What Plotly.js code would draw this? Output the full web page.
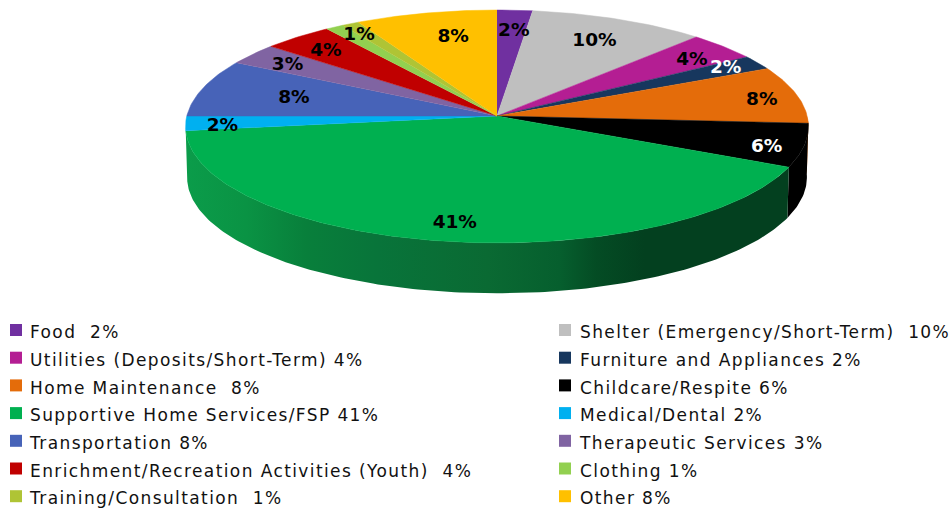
<!DOCTYPE html>
<html><head><meta charset="utf-8">
<script src="https://cdn.plot.ly/plotly-3.0.1.min.js"></script>
<style>html,body{margin:0;padding:0;background:#fff}#chart{width:952px;height:508px}
/* the key is set wide in the reference; the last four traces are the two key columns */
.scatterlayer .trace:nth-last-child(-n+4) .textpoint text{letter-spacing:1.4px}
</style>
</head><body><div id="chart"></div>
<script>
const categories=["Food","Shelter (Emergency/Short-Term)","Utilities (Deposits/Short-Term)","Furniture and Appliances","Home Maintenance","Childcare/Respite","Supportive Home Services/FSP","Medical/Dental","Transportation","Therapeutic Services","Enrichment/Recreation Activities (Youth)","Clothing","Training/Consultation","Other"];
const values=[2,10,4,2,8,6,41,2,8,3,4,1,1,8];
const legendSep=["\u00a0\u00a0"," \u00a0"," "," ","\u00a0\u00a0"," "," "," "," "," ","\u00a0\u00a0"," ","\u00a0\u00a0"," "];
const colors=["#7030A0","#BFBFBF","#B41E93","#17375E","#E46C0A","#000000","#00B050","#00B0F0","#4763B8","#8064A2","#C00000","#92D050","#AFC435","#FFC000"];
const labelColors=["#000","#000","#000","#fff","#000","#fff","#000","#000","#000","#000","#000","#000",null,"#000"];
// pixel nudges of the percentage labels away from their default spot in the slice
const labelNudge=[[4,-9],[10,-5],[34,-6],[44,-10],[54,-1],[56,11],[-6,22],[-57,5],[4,2],[-36,-7],[-29,-8],[-22,-17],null,[7,-5]];
const wallScale=[[0,"#0B9C4A"],[0.1,"#0A9344"],[0.2,"#087F3B"],[0.32,"#08743A"],[0.5,"#0A6A33"],[0.62,"#065F2E"],[0.68,"#044C24"],[0.76,"#03401F"],[1,"#03401F"]];

// projection of the tilted disc onto the pixel-scaled axes
const CX=497,CY=116,A=310.2,G=115.5,K=0.09,DEPTH=51,BOTTOM=0.995;
function proj(frac,r,down){
  const t=2*Math.PI*frac,X=r*Math.sin(t),Y=r*Math.cos(t),d=1+K*Y,s=down?BOTTOM:1;
  return [CX+s*A*X/d, CY+(down?DEPTH:0)-s*G*Y/d];
}
function arc(a,b,down){
  const n=Math.max(2,Math.ceil((b-a)*400)),p=[];
  for(let i=0;i<=n;i++)p.push(proj(a+(b-a)*i/n,1,down));
  return p;
}
const total=values.reduce((a,b)=>a+b,0);
let c=0;
const spans=values.map(v=>{const s=[c/total,(c+v)/total];c+=v;return s;});
const traces=[];
// side wall: only the front half of the disc shows one
spans.forEach((s,i)=>{
  if(values[i]<5)return;
  const a=Math.max(s[0],0.25),b=Math.min(s[1],0.75);
  if(b<=a)return;
  const p=arc(a,b,false).concat(arc(a,b,true).reverse());
  const tr={type:"scatter",mode:"lines",x:p.map(q=>q[0]),y:p.map(q=>q[1]),fill:"toself",line:{width:0},hoverinfo:"skip",showlegend:false};
  if(i===6){tr.fillgradient={type:"horizontal",colorscale:wallScale};}
  else tr.fillcolor=colors[i];
  traces.push(tr);
});
// top face
spans.forEach((s,i)=>{
  const p=[proj(0,0,false)].concat(arc(s[0],s[1],false));
  traces.push({type:"scatter",mode:"lines",name:categories[i],x:p.map(q=>q[0]),y:p.map(q=>q[1]),fill:"toself",fillcolor:colors[i],line:{width:0.5,color:colors[i]},hoverinfo:"name",showlegend:false});
});
// percentage labels
const lx=[],ly=[],lt=[],lc=[];
spans.forEach((s,i)=>{
  if(!labelNudge[i])return;
  const q=proj((s[0]+s[1])/2,0.7,false);
  lx.push(q[0]+labelNudge[i][0]);ly.push(q[1]+labelNudge[i][1]);lt.push(values[i]+"%");lc.push(labelColors[i]);
});
traces.push({type:"scatter",mode:"text",x:lx,y:ly,text:lt,textposition:"middle center",textfont:{family:"DejaVu Sans",size:18.5,weight:700,color:lc},hoverinfo:"skip",showlegend:false});
// two-column key
const ROW0=330,ROWH=27.7;
[[0,16,30],[1,565,580]].forEach(([col,mx,tx])=>{
  const idx=categories.map((_,i)=>i).filter(i=>i%2===col);
  const ys=idx.map((_,r)=>ROW0+r*ROWH);
  traces.push({type:"scatter",mode:"markers",x:idx.map(()=>mx),y:ys,marker:{symbol:"square",size:12,color:idx.map(i=>colors[i])},hoverinfo:"skip",showlegend:false});
  traces.push({type:"scatter",mode:"text",cliponaxis:false,x:idx.map(()=>tx),y:ys.map(y=>y+4),text:idx.map(i=>categories[i]+legendSep[i]+values[i]+"%"),textposition:"middle right",textfont:{family:"DejaVu Sans",size:17,color:"#111111"},hoverinfo:"skip",showlegend:false});
});
const layout={width:952,height:508,margin:{l:0,r:0,t:0,b:0},paper_bgcolor:"#fff",plot_bgcolor:"#fff",showlegend:false,
  xaxis:{range:[0,952],visible:false,fixedrange:true},yaxis:{range:[508,0],visible:false,fixedrange:true}};
Plotly.newPlot("chart",traces,layout,{displayModeBar:false,staticPlot:true});
</script></body></html>
